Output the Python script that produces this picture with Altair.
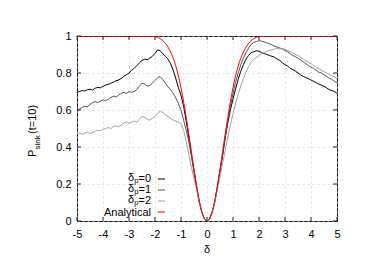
import altair as alt
import pandas as pd

# ---- data ----
delta_noisy = [round(-5 + 0.1 * i, 1) for i in range(101)]

p_dp0 = [0.695, 0.70, 0.705, 0.703, 0.71, 0.712, 0.708, 0.718, 0.722, 0.72,
         0.728, 0.735, 0.738, 0.745, 0.75, 0.758, 0.762, 0.77, 0.782, 0.79,
         0.80, 0.815, 0.825, 0.84, 0.855, 0.868, 0.875, 0.872, 0.88, 0.89,
         0.905, 0.925, 0.92, 0.905, 0.89, 0.875, 0.85, 0.815, 0.77, 0.72,
         0.68, 0.62, 0.54, 0.45, 0.36, 0.27, 0.185, 0.105, 0.048, 0.012,
         0.0,
         0.012, 0.048, 0.105, 0.185, 0.27, 0.355, 0.45, 0.53, 0.60, 0.66,
         0.715, 0.765, 0.81, 0.845, 0.875, 0.895, 0.91, 0.915, 0.92, 0.918,
         0.91, 0.905, 0.90, 0.895, 0.89, 0.885, 0.875, 0.868, 0.855, 0.845,
         0.838, 0.825, 0.818, 0.81, 0.80, 0.79, 0.782, 0.775, 0.77, 0.762,
         0.755, 0.748, 0.74, 0.735, 0.728, 0.72, 0.71, 0.705, 0.70, 0.69]

p_dp1 = [0.60, 0.605, 0.615, 0.62, 0.618, 0.63, 0.64, 0.645, 0.64, 0.648,
         0.655, 0.65, 0.658, 0.668, 0.675, 0.67, 0.68, 0.69, 0.695, 0.69,
         0.70, 0.695, 0.70, 0.71, 0.73, 0.745, 0.74, 0.73, 0.732, 0.745,
         0.76, 0.775, 0.78, 0.765, 0.745, 0.725, 0.71, 0.69, 0.665, 0.635,
         0.60, 0.545, 0.49, 0.43, 0.35, 0.265, 0.18, 0.105, 0.048, 0.012,
         0.0,
         0.012, 0.048, 0.105, 0.185, 0.27, 0.355, 0.45, 0.54, 0.62, 0.69,
         0.75, 0.80, 0.845, 0.88, 0.91, 0.935, 0.955, 0.965, 0.97, 0.975,
         0.972, 0.968, 0.962, 0.958, 0.952, 0.945, 0.94, 0.935, 0.93, 0.922,
         0.915, 0.905, 0.895, 0.888, 0.88, 0.87, 0.86, 0.85, 0.84, 0.832,
         0.825, 0.815, 0.805, 0.80, 0.79, 0.782, 0.772, 0.765, 0.755, 0.748]

p_dp2 = [0.47, 0.475, 0.468, 0.475, 0.48, 0.472, 0.478, 0.485, 0.49, 0.488,
         0.495, 0.50, 0.505, 0.50, 0.51, 0.515, 0.508, 0.52, 0.53, 0.535,
         0.528, 0.535, 0.54, 0.535, 0.55, 0.565, 0.56, 0.55, 0.545, 0.555,
         0.565, 0.58, 0.595, 0.585, 0.575, 0.565, 0.555, 0.545, 0.54, 0.535,
         0.525, 0.49, 0.43, 0.36, 0.29, 0.23, 0.17, 0.10, 0.048, 0.012,
         0.0,
         0.012, 0.048, 0.10, 0.17, 0.24, 0.31, 0.38, 0.45, 0.52, 0.58,
         0.635, 0.685, 0.73, 0.77, 0.805, 0.835, 0.86, 0.875, 0.885, 0.895,
         0.905, 0.91, 0.918, 0.922, 0.925, 0.93, 0.932, 0.93, 0.932, 0.928,
         0.922, 0.915, 0.91, 0.90, 0.895, 0.885, 0.875, 0.865, 0.858, 0.85,
         0.84, 0.83, 0.825, 0.815, 0.808, 0.80, 0.792, 0.785, 0.778, 0.77]

delta_an = [-5.0, -2.4, -2.2, -2.0, -1.9, -1.8, -1.7, -1.6, -1.5, -1.4, -1.3,
            -1.2, -1.1, -1.0, -0.9, -0.8, -0.7, -0.6, -0.5, -0.4, -0.3, -0.2,
            -0.1, 0.0, 0.1, 0.2, 0.3, 0.4, 0.5, 0.6, 0.7, 0.8, 0.9, 1.0, 1.1,
            1.2, 1.3, 1.4, 1.5, 1.6, 1.7, 1.8, 1.9, 2.0, 2.2, 2.4, 5.0]
p_an = [1.0, 1.0, 0.999, 0.997, 0.993, 0.986, 0.975, 0.96, 0.94, 0.913, 0.88,
        0.838, 0.785, 0.72, 0.645, 0.56, 0.47, 0.375, 0.28, 0.19, 0.11, 0.05,
        0.013, 0.0, 0.013, 0.05, 0.11, 0.19, 0.28, 0.375, 0.47, 0.56, 0.645,
        0.72, 0.785, 0.838, 0.88, 0.913, 0.94, 0.96, 0.975, 0.986, 0.993,
        0.997, 0.999, 1.0, 1.0]

x_ticks = [-5, -4, -3, -2, -1, 0, 1, 2, 3, 4, 5]
y_ticks = [0, 0.2, 0.4, 0.6, 0.8, 1]

legend_names = ["δp=0", "δp=1", "δp=2", "Analytical"]
colors = ["#000000", "#555555", "#a0a0a0", "#ff0000"]

FONT = "Liberation Sans"
W, H = 260, 185

xs = alt.Scale(domain=[-5, 5], nice=False, zero=False)
ys = alt.Scale(domain=[0, 1], nice=False, zero=False)

x_axis = alt.Axis(values=x_ticks, title=None, ticks=False, domain=False,
                  labelPadding=7, labelFontSize=11, labelFont=FONT,
                  labelColor="black", grid=True, gridDash=[2, 3],
                  gridColor="#cccccc", gridWidth=0.6, labelFlush=False,
                  labelExpr="'' + datum.value")
y_axis = alt.Axis(values=y_ticks, title=None, ticks=False, domain=False,
                  labelPadding=6, labelFontSize=11, labelFont=FONT,
                  labelColor="black", grid=True, gridDash=[2, 3],
                  gridColor="#cccccc", gridWidth=0.6, labelFlush=False,
                  labelExpr="datum.value == 0 ? '0' : datum.value == 1 ? '1' : format(datum.value, '.1f')")


def X(field):
    return alt.X(field, scale=xs, axis=x_axis)


def Y(field):
    return alt.Y(field, scale=ys, axis=y_axis)


def curve(vals, deltas, color, interp="linear"):
    df = pd.DataFrame({"delta": deltas, "P": vals})
    return alt.Chart(df).mark_line(color=color, strokeWidth=1, interpolate=interp, clip=True).encode(
        x=X("delta:Q"), y=Y("P:Q"))


layers = [
    curve(p_dp0, delta_noisy, colors[0]),
    curve(p_dp1, delta_noisy, colors[1]),
    curve(p_dp2, delta_noisy, colors[2]),
    curve(p_an, delta_an, colors[3], interp="monotone"),
]

# inward ticks (gnuplot style, mirrored)
xt = pd.DataFrame({"delta": x_ticks})
yt = pd.DataFrame({"P": y_ticks})
tick_col = "#222222"
layers += [
    alt.Chart(xt).mark_rule(color=tick_col, strokeWidth=1).encode(
        x=X("delta:Q"), y=alt.value(H), y2=alt.value(H - 4)),
    alt.Chart(xt).mark_rule(color=tick_col, strokeWidth=1).encode(
        x=X("delta:Q"), y=alt.value(0), y2=alt.value(4)),
    alt.Chart(yt).mark_rule(color=tick_col, strokeWidth=1).encode(
        y=Y("P:Q"), x=alt.value(0), x2=alt.value(4)),
    alt.Chart(yt).mark_rule(color=tick_col, strokeWidth=1).encode(
        y=Y("P:Q"), x=alt.value(W), x2=alt.value(W - 4)),
]


def txt(s, x, y, size=11, align="left", baseline="middle", angle=0):
    return alt.Chart(pd.DataFrame({"t": [s]})).mark_text(
        font=FONT, fontSize=size, align=align, baseline=baseline, angle=angle,
        color="black").encode(text="t:N", x=alt.value(x), y=alt.value(y))


# x title
layers.append(txt("δ", 130, 214, align="center"))

# y title: P_sink(t=10), rotated
layers.append(txt("P", -41, 121, size=11, align="left", baseline="alphabetic", angle=270))
layers.append(txt("sink", -37, 113.5, size=8, align="left", baseline="alphabetic", angle=270))
layers.append(txt("(t=10)", -41, 98, size=11, align="left", baseline="alphabetic", angle=270))

# legend (gnuplot style: text right-aligned, sample to the right)
row_y = [143, 154, 165, 176]
for i, name in enumerate(legend_names):
    y = row_y[i]
    if name.startswith("δp"):
        layers.append(txt(name[2:], 74, y, align="right"))
        layers.append(txt("p", 61.3, y + 3.5, size=7.5, align="right", baseline="alphabetic"))
        layers.append(txt("δ", 57, y - 1, align="right"))
    else:
        layers.append(txt(name, 74, y + 0.5, align="right"))
    layers.append(alt.Chart(pd.DataFrame({"k": [name]})).mark_rule(
        color=colors[i], strokeWidth=1).encode(
        x=alt.value(81), x2=alt.value(88), y=alt.value(y)))

chart = alt.layer(*layers).properties(
    width=W, height=H,
    autosize=alt.AutoSizeParams(type="none"),
    padding={"left": 69, "top": 28, "right": 45, "bottom": 47},
).configure_view(stroke="#111111", strokeWidth=1)

chart.save("out.html", embed_options={"renderer": "svg", "actions": False})
